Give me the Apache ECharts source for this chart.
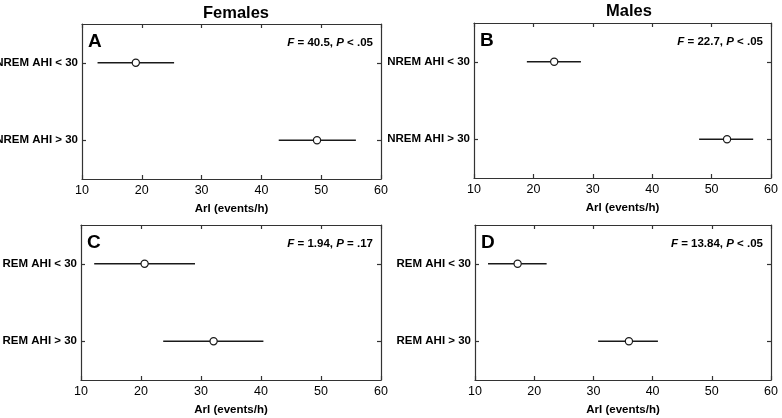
<!DOCTYPE html>
<html>
<head>
<meta charset="utf-8">
<script src="https://cdn.jsdelivr.net/npm/echarts@6/dist/echarts.min.js"></script>
<style>
html,body{margin:0;padding:0;background:#fff;}
#c{width:782px;height:418px;}
</style>
</head>
<body>
<div id="c"></div>
<script>
// ---- data ----
const categoriesNREM = ['NREM AHI < 30', 'NREM AHI > 30'];
const categoriesREM = ['REM AHI < 30', 'REM AHI > 30'];
const columnTitles = ['Females', 'Males'];
const panelLetters = ['A', 'B', 'C', 'D'];
const statF = ['40.5', '22.7', '1.94', '13.84'];
const statP = ['< .05', '< .05', '= .17', '< .05'];
const xTicks = [10, 20, 30, 40, 50, 60];
const xName = 'ArI (events/h)';

// panel A: Females NREM
const femNremMean = [19.0, 49.3];
const femNremLow  = [12.6, 42.9];
const femNremHigh = [25.4, 55.8];
// panel B: Males NREM
const malNremMean = [23.5, 52.6];
const malNremLow  = [18.9, 47.9];
const malNremHigh = [28.0, 57.0];
// panel C: Females REM
const femRemMean = [20.6, 32.1];
const femRemLow  = [12.2, 23.7];
const femRemHigh = [29.0, 40.4];
// panel D: Males REM
const malRemMean = [17.2, 36.0];
const malRemLow  = [12.2, 30.8];
const malRemHigh = [22.1, 40.9];

// ---- chart ----
const FONT = "'Liberation Sans','Arial',sans-serif";
const INK = '#1a1a1a';
const FRAME = '#333';

const panels = [
  {cats: categoriesNREM, mean: femNremMean, low: femNremLow, high: femNremHigh, grid: {left: 82, top: 24, width: 299, height: 155}},
  {cats: categoriesNREM, mean: malNremMean, low: malNremLow, high: malNremHigh, grid: {left: 474, top: 23, width: 297, height: 155}},
  {cats: categoriesREM,  mean: femRemMean,  low: femRemLow,  high: femRemHigh,  grid: {left: 81, top: 225, width: 300, height: 155}},
  {cats: categoriesREM,  mean: malRemMean,  low: malRemLow,  high: malRemHigh,  grid: {left: 475, top: 225, width: 296, height: 155}}
];

const grids = [], xAxes = [], yAxes = [], series = [], graphics = [];
const xMin = xTicks[0], xMax = xTicks[xTicks.length - 1], xInt = xTicks[1] - xTicks[0];

panels.forEach((p, i) => {
  grids.push(Object.assign({containLabel: false, outerBoundsMode: 'none'}, p.grid));
  const lineStyle = {color: FRAME, width: 1.2};
  // bottom x axis
  xAxes.push({
    type: 'value', gridIndex: i, position: 'bottom', min: xMin, max: xMax, interval: xInt,
    axisLine: {show: true, lineStyle}, splitLine: {show: false},
    axisTick: {show: true, inside: true, length: 4, lineStyle},
    axisLabel: {color: '#000', fontFamily: FONT, fontSize: 12.5, margin: 5},
    name: xName, nameLocation: 'middle', nameGap: 24,
    nameTextStyle: {color: '#000', fontFamily: FONT, fontSize: 11.5, fontWeight: 'bold', verticalAlign: 'top'}
  });
  // top x axis (frame + ticks)
  xAxes.push({
    type: 'value', gridIndex: i, position: 'top', min: xMin, max: xMax, interval: xInt,
    axisLine: {show: true, lineStyle}, splitLine: {show: false},
    axisTick: {show: true, inside: true, length: 4, lineStyle},
    axisLabel: {show: false}
  });
  // left y axis
  yAxes.push({
    type: 'category', gridIndex: i, position: 'left', data: p.cats, inverse: true,
    axisLine: {show: true, lineStyle},
    axisTick: {show: true, inside: true, length: 4, alignWithLabel: true, lineStyle},
    axisLabel: {color: '#000', fontFamily: FONT, fontSize: 11.5, fontWeight: 'bold', margin: 4},
    splitLine: {show: false}
  });
  // right y axis
  yAxes.push({
    type: 'category', gridIndex: i, position: 'right', data: p.cats, inverse: true,
    axisLine: {show: true, lineStyle},
    axisTick: {show: true, inside: true, length: 4, alignWithLabel: true, lineStyle},
    axisLabel: {show: false}, splitLine: {show: false}
  });
  const data = p.cats.map((c, k) => [k, p.low[k], p.mean[k], p.high[k]]);
  series.push({
    type: 'custom', xAxisIndex: i * 2, yAxisIndex: i * 2,
    encode: {x: [1, 2, 3], y: 0},
    data,
    renderItem: function (params, api) {
      const yv = api.value(0);
      const lo = api.coord([api.value(1), yv]);
      const mu = api.coord([api.value(2), yv]);
      const hi = api.coord([api.value(3), yv]);
      return {
        type: 'group',
        children: [
          {type: 'line', shape: {x1: lo[0], y1: lo[1], x2: hi[0], y2: hi[1]}, style: {stroke: INK, lineWidth: 1.3}},
          {type: 'circle', shape: {cx: mu[0], cy: mu[1], r: 3.6}, style: {fill: '#fff', stroke: INK, lineWidth: 1.2}}
        ]
      };
    }
  });
  // panel letter
  graphics.push({
    type: 'text', left: p.grid.left + 6, top: p.grid.top + 8,
    style: {text: panelLetters[i], fill: '#000', font: "bold 19px " + FONT}
  });
  // stat annotation
  graphics.push({
    type: 'text', right: 782 - (p.grid.left + p.grid.width) + 8, top: p.grid.top + 13,
    style: {
      text: '{i|F} = ' + statF[i] + ', {i|P} ' + statP[i],
      fill: '#000', font: "bold 11.5px " + FONT,
      rich: {i: {fontStyle: 'italic', fontWeight: 'bold', fontSize: 11.5, fontFamily: FONT, fill: '#000'}}
    }
  });
});

const chart = echarts.init(document.getElementById('c'), null, {renderer: 'canvas'});
chart.setOption({
  backgroundColor: '#fff',
  animation: false,
  title: [
    {text: columnTitles[0], left: 231, top: 0, textAlign: 'center', textStyle: {fontFamily: FONT, fontSize: 16.5, fontWeight: 'bold', color: '#000'}},
    {text: columnTitles[1], left: 624, top: -2, textAlign: 'center', textStyle: {fontFamily: FONT, fontSize: 16.5, fontWeight: 'bold', color: '#000'}}
  ],
  grid: grids,
  xAxis: xAxes,
  yAxis: yAxes,
  series,
  graphic: graphics
});
</script>
</body>
</html>
